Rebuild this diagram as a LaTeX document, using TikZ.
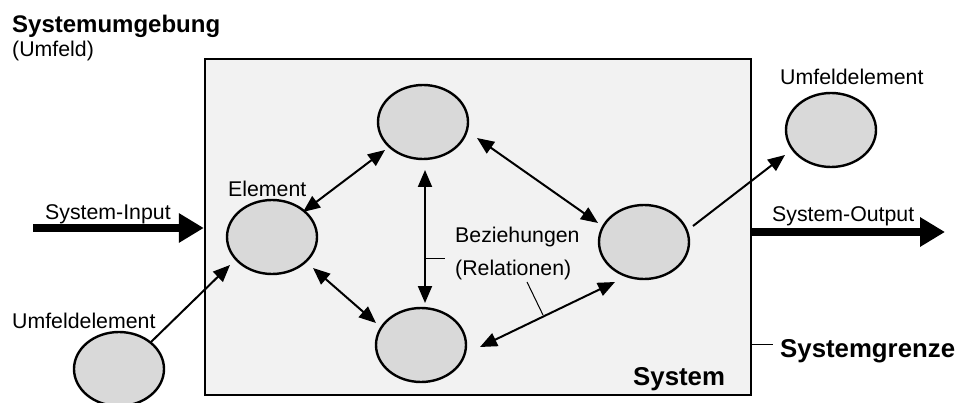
\documentclass[tikz,border=0pt]{standalone}
\usepackage{fontspec}
\setmainfont{Liberation Sans}
\usetikzlibrary{arrows.meta,shapes.geometric,calc}

\definecolor{boxfill}{HTML}{F2F2F2}
\definecolor{elemfill}{HTML}{D9D9D9}

\tikzset{
  elem/.style={ellipse, draw=black, line width=2.4pt, fill=elemfill,
    minimum width=90pt, minimum height=74pt, inner sep=0pt},
  lbl/.style={anchor=base west, inner sep=0pt, font=\fontsize{21.3}{25}\selectfont},
  blbl/.style={anchor=base west, inner sep=0pt, font=\fontsize{25.8}{30}\selectfont\bfseries},
  rel/.style={line width=2pt, {Triangle[length=17pt,width=14pt]}-{Triangle[length=17pt,width=14pt]}},
  flow/.style={line width=2pt, -{Triangle[length=17pt,width=14pt]}},
  io/.style={line width=8.5pt, -{Triangle[length=25pt,width=28pt]}},
  leader/.style={line width=1pt}
}

\begin{document}
\begin{tikzpicture}[x=1pt,y=-1pt]
\useasboundingbox (0,0) rectangle (963,403);

% system boundary
\node[draw=black, line width=2.4pt, fill=boxfill, minimum width=546pt,
  minimum height=336pt, inner sep=0pt] (sys) at (478,227) {};

% elements
\node[elem] (t)  at (423,122) {};
\node[elem] (l)  at (272,237) {};
\node[elem] (b)  at (421,345) {};
\node[elem] (r)  at (644,242) {};
\node[elem] (u1) at (831,130) {};
\node[elem] (u2) at (119,369) {};

% relations inside the system
\draw[rel] ($(l)+(31,-25)$) -- ($(t)+(-38,28)$);
\draw[rel] ($(l)+(41,31)$) -- ($(b)+(-45,-22)$);
\draw[rel] ($(t)+(2,48)$) -- ($(b)+(4,-42)$);
\draw[rel] ($(t)+(54,16)$) -- ($(r)+(-46,-19)$);
\draw[rel] ($(b)+(59,2)$) -- ($(r)+(-29,40)$);

% links to the surroundings
\draw[flow] ($(r)+(49,-16)$) -- ($(u1)+(-46,25)$);
\draw[flow] ($(u2)+(32,-27)$) -- ($(l)+(-42,28)$);

% input and output
\coordinate (in)  at (33,228);
\coordinate (out) at (945,232);
\draw[io] (in) -- (sys.west |- in);
\draw[io] (sys.east |- out) -- (out);

% labels
\node[blbl, font=\fontsize{24}{29}\selectfont\bfseries] (title) at (12,33) {Systemumgebung};
\node[lbl] (umf) at (12,57) {(Umfeld)};
\node[lbl] (elab) at (228,197) {Element};
\node[lbl] (inlab) at (45,220) {System-Input};
\node[lbl] (outlab) at (772,222) {System-Output};
\node[lbl] (u1lab) at (780,85) {Umfeldelement};
\node[lbl] (u2lab) at (12,328) {Umfeldelement};
\node[lbl] (bez) at (455,243) {Beziehungen};
\node[lbl] (relat) at (455,275) {(Relationen)};
\node[blbl] (syslab) at (633,385) {System};
\node[blbl] (grenze) at (780,357) {Systemgrenze};

% leader lines
\coordinate (lv) at (425,259);
\coordinate (ld) at (543,315);
\draw[leader] (lv) -- (445,259);
\draw[leader] (527,282) -- (ld);
\coordinate (lg) at (773,344);
\draw[leader] (sys.east |- lg) -- (lg);
\end{tikzpicture}
\end{document}
